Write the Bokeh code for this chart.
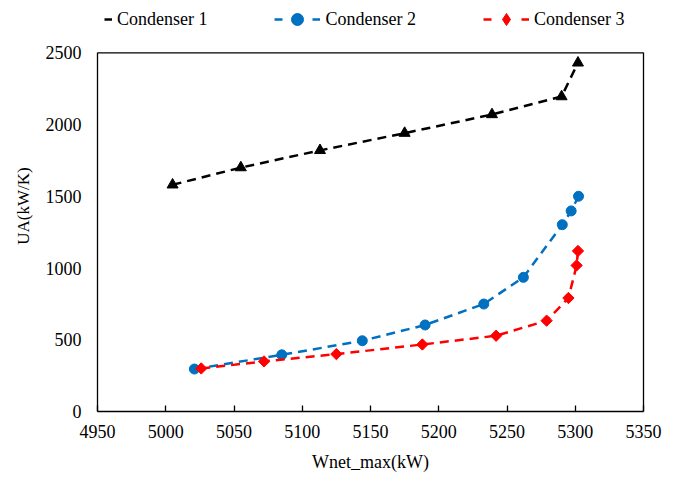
from math import pi
from bokeh.plotting import figure
from bokeh.models import Legend, LegendItem, FixedTicker, Range1d, LinearAxis, Span
from bokeh.embed import file_html
from bokeh.resources import INLINE

# ---- data ----
x_ticks = [4950, 5000, 5050, 5100, 5150, 5200, 5250, 5300, 5350]
y_ticks = [0, 500, 1000, 1500, 2000, 2500]

cond1_x = [5005, 5055, 5113, 5175, 5239, 5290, 5302]
cond1_y = [1580, 1700, 1820, 1940, 2070, 2195, 2430]

cond2_x = [5021, 5085, 5144, 5190, 5233, 5262, 5290.5, 5297, 5302.4]
cond2_y = [296, 395, 493, 603, 749, 935, 1302, 1398, 1500]

cond3_x = [5026, 5072, 5125, 5188, 5242, 5279, 5295, 5301, 5302]
cond3_y = [300, 349, 400, 467, 528, 633, 791, 1018, 1119]

names = ["Condenser 1", "Condenser 2", "Condenser 3"]
colors = ["#000000", "#0070C0", "#FF0000"]

FONT = "Liberation Serif"

X_MIN, X_MAX = x_ticks[0], x_ticks[-1]
Y_MIN, Y_MAX = y_ticks[0], y_ticks[-1]

# layout: the frame runs to the top of the canvas so that the legend (which
# is clipped to the frame) can sit above the boxed plot area.
W, H = 678, 480
BORDER_BOTTOM = 69
BOX_TOP_PX = 52.3               # distance of the box top from the canvas top
frame_h = H - BORDER_BOTTOM
y_top = Y_MAX * frame_h / (frame_h - BOX_TOP_PX)

p = figure(width=W, height=H, output_backend="svg", toolbar_location=None,
           x_range=Range1d(X_MIN, X_MAX), y_range=Range1d(Y_MIN, y_top),
           min_border_left=97, min_border_right=35, min_border_top=0,
           min_border_bottom=BORDER_BOTTOM)

p.xgrid.visible = False
p.ygrid.visible = False
p.outline_line_color = None
p.background_fill_color = "white"
p.border_fill_color = "white"

# axes
p.xaxis.ticker = FixedTicker(ticks=x_ticks)
p.yaxis.ticker = FixedTicker(ticks=y_ticks)
p.yaxis.bounds = (Y_MIN, Y_MAX)
for ax in (p.xaxis[0], p.yaxis[0]):
    ax.axis_line_color = "black"
    ax.axis_line_width = 1.3
    ax.major_label_text_font = FONT
    ax.major_label_text_font_size = "18px"
    ax.major_label_text_color = "black"
    ax.axis_label_text_font = FONT
    ax.axis_label_text_font_style = "normal"
    ax.axis_label_text_color = "black"
    ax.minor_tick_line_color = None

p.xaxis.major_tick_in = 6
p.xaxis.major_tick_out = 0
p.xaxis.major_tick_line_color = "black"
p.xaxis.major_tick_line_width = 1.3
p.xaxis.major_label_standoff = 13
p.xaxis.axis_label = "Wnet_max(kW)"
p.xaxis.axis_label_text_font_size = "18px"
p.xaxis.axis_label_standoff = 11

p.yaxis.major_tick_line_color = None
p.yaxis.major_tick_in = 0
p.yaxis.major_tick_out = 0
p.yaxis.major_label_standoff = 16
p.yaxis.axis_label = "UA(kW/K)"
p.yaxis.axis_label_text_font_size = "17px"
p.yaxis.axis_label_standoff = 10

# right edge of the box
right_ax = LinearAxis(ticker=FixedTicker(ticks=[]), bounds=(Y_MIN, Y_MAX),
                      axis_line_color="black", axis_line_width=1.3,
                      major_tick_line_color=None, minor_tick_line_color=None,
                      major_label_standoff=0)
p.add_layout(right_ax, "right")
# top edge of the box
p.add_layout(Span(location=Y_MAX, dimension="width", line_color="black",
                  line_width=1.3))

DASH = "9 6"
LW = 2.5

# (x, y, plot marker, size, angle, legend marker)
series = [
    (cond1_x, cond1_y, "triangle", 11, 0.0, "triangle"),
    (cond2_x, cond2_y, "circle", 10, 0.0, "circle"),
    (cond3_x, cond3_y, "square", 8, pi / 4, "diamond"),
]

nan = float("nan")
items = []
for (xs, ys, marker, size, ang, leg_marker), name, col in zip(series, names, colors):
    p.line(xs, ys, line_color=col, line_width=LW, line_dash=DASH)
    p.scatter(xs, ys, marker=marker, size=size, angle=ang,
              fill_color=col, line_color=col)
    # legend-only samples (draw nothing on the plot)
    leg_line = p.line(x=[nan], y=[nan], line_color=col, line_width=LW,
                      line_dash="8 30")
    leg_mark = p.scatter(x=[nan], y=[nan], marker=leg_marker, size=10,
                         fill_color=col, line_color=col)
    items.append(LegendItem(label=name, renderers=[leg_line, leg_mark]))

legend = Legend(items=items, location=(-31, 377), orientation="horizontal",
                background_fill_alpha=0, border_line_alpha=0, padding=0, margin=0,
                spacing=67, glyph_width=46, glyph_height=30, label_standoff=5,
                label_text_font=FONT, label_text_font_size="18px",
                label_text_color="black")
p.add_layout(legend, "center")

open("out.html", "w").write(file_html(p, INLINE))
